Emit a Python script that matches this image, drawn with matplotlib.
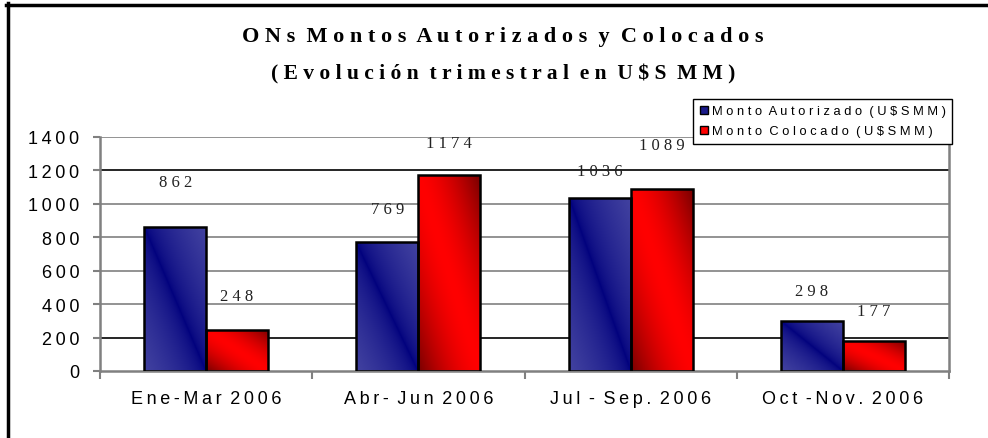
import matplotlib.pyplot as plt
from matplotlib.lines import Line2D
import numpy as np

# datos del grafico
trimestres = ['Ene-Mar 2006', 'Abr- Jun 2006', 'Jul - Sep. 2006', 'Oct -Nov. 2006']
autorizado = [862, 769, 1036, 298]
colocado = [248, 1174, 1089, 177]
serie_nombres = ['Monto Autorizado (U$SMM)', 'Monto Colocado (U$SMM)']
titulo1 = 'ONs Montos Autorizados y Colocados'
titulo2 = '(Evolución trimestral en U$S MM)'

# altura extra de cada etiqueta sobre su barra (puntos)
lift_aut = [32, 24, 19, 22]
lift_col = [24, 23, 32, 22]

THIN = '\u2009'


def track(s, sep=' ', word_sep='  '):
    # separa las letras como en el original
    return word_sep.join(sep.join(w) for w in s.split(' '))


def gradiente(ax, bar, c_mid, c_edge, gamma):
    # degradado diagonal: c_mid sobre la diagonal sup-izq -> inf-der
    x, y = bar.get_x(), bar.get_y()
    w, h = bar.get_width(), bar.get_height()
    u = np.linspace(0, 1, 100)
    U, V = np.meshgrid(u, u)
    t = np.abs(U + V - 1) ** gamma
    c_mid = np.array(c_mid) / 255.0
    c_edge = np.array(c_edge) / 255.0
    rgb = c_mid * (1 - t)[..., None] + c_edge * t[..., None]
    im = ax.imshow(rgb, extent=(x, x + w, y, y + h), origin='lower',
                   aspect='auto', interpolation='bilinear', zorder=2.5)
    im.set_clip_path(bar)


fig = plt.figure(figsize=(9.88, 4.39), dpi=100)
ax = fig.add_axes([100 / 988, 1 - 372 / 439, 849 / 988, 234 / 439])

x = np.arange(len(trimestres))
bw = 0.292
b1 = ax.bar(x - bw / 2, autorizado, bw, facecolor='none', edgecolor='black',
            linewidth=1.8, zorder=3)
b2 = ax.bar(x + bw / 2, colocado, bw, facecolor='none', edgecolor='black',
            linewidth=1.8, zorder=3)
for bar in b1:
    gradiente(ax, bar, (0, 0, 125), (66, 66, 160), 0.6)
for bar in b2:
    gradiente(ax, bar, (255, 0, 0), (120, 0, 0), 1.6)

# etiquetas de valores
for bars, vals, lifts in [(b1, autorizado, lift_aut), (b2, colocado, lift_col)]:
    for bar, v, l in zip(bars, vals, lifts):
        ax.annotate(track(str(v)), (bar.get_x() + bar.get_width() / 2, v),
                    xytext=(0, l), textcoords='offset points', ha='center',
                    va='center', fontsize=12, family='Liberation Serif',
                    color='#222222')

ax.set_xlim(-0.5, 3.5)
ax.set_ylim(0, 1400)
yt = np.arange(0, 1401, 200)
ax.set_yticks(yt)
ax.set_yticklabels([track(str(v), THIN) for v in yt],
                   family=['Liberation Sans', 'DejaVu Sans'], fontsize=13)
for v in yt[1:]:
    col = 'black' if v in (200, 1200) else '#808080'
    ax.axhline(v, color=col, linewidth=1.2, zorder=1)

ax.set_xticks(np.arange(-0.5, 3.6, 1))
ax.set_xticklabels([])
ax.set_xticks(x, minor=True)
ax.set_xticklabels([track(s, THIN, ' ' + THIN) for s in trimestres], minor=True,
                   family=['Liberation Sans', 'DejaVu Sans'], fontsize=13)
ax.tick_params(axis='x', which='major', length=6, width=1.5, color='#808080')
ax.tick_params(axis='x', which='minor', length=0, pad=14)
ax.tick_params(axis='y', length=5, width=1.5, color='#808080', pad=10)

for s in ['left', 'bottom', 'right']:
    ax.spines[s].set_color('#808080')
    ax.spines[s].set_linewidth(1.8)
ax.spines['top'].set_visible(False)

# leyenda
handles = [plt.Rectangle((0, 0), 1, 1, facecolor='#1a1a8a', edgecolor='black'),
           plt.Rectangle((0, 0), 1, 1, facecolor='#ff0000', edgecolor='black')]
leg = fig.legend(handles, [track(n, ' ', '  ') for n in serie_nombres],
                 loc='upper right', bbox_to_anchor=(952 / 988, 1 - 100 / 439),
                 prop={'family': 'Liberation Sans', 'size': 9.3},
                 handlelength=0.6, handleheight=0.6, handletextpad=0.3,
                 borderpad=0.5, labelspacing=0.6, borderaxespad=0,
                 fancybox=False, framealpha=1)
leg.get_frame().set_edgecolor('black')
leg.get_frame().set_linewidth(1)

# titulos
fig.text(503 / 988, 1 - 37 / 439, track(titulo1), ha='center', va='center',
         fontsize=16, fontweight='bold', family='Liberation Serif')
fig.text(503 / 988, 1 - 74 / 439, track(titulo2), ha='center', va='center',
         fontsize=15.5, fontweight='bold', family='Liberation Serif')

# borde grueso del recuadro
fig.add_artist(Line2D([6 / 988, 1], [1 - 5.5 / 439] * 2, color='black',
                      linewidth=2.5, transform=fig.transFigure))
fig.add_artist(Line2D([7.5 / 988] * 2, [0, 1 - 4 / 439], color='black',
                      linewidth=2.5, transform=fig.transFigure))

fig.savefig('out.png', dpi=100)
